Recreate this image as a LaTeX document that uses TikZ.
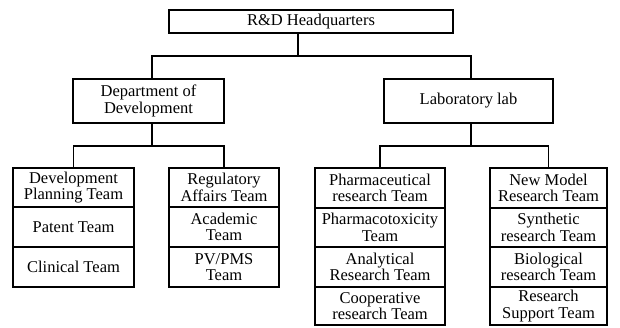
\documentclass[tikz,border=0pt]{standalone}
\usepackage{fontspec}
\setmainfont{Liberation Serif}
\begin{document}
\begin{tikzpicture}[x=1pt,y=-1pt,
  box/.style={draw,line width=1.5pt,rectangle,inner sep=0pt,align=center,
    font=\fontsize{16.5}{16.5}\selectfont},
  wire/.style={line width=1.5pt}]
\useasboundingbox (0,0) rectangle (620,327);
% top level
\node[box,minimum width=284pt,minimum height=23pt] (hq) at (311,21.5) {R\&D Headquarters};
\node[box,minimum width=151pt,minimum height=44pt] (dept) at (148.5,101) {Department of\\Development};
\node[box,minimum width=169pt,minimum height=44pt] (lab) at (468.5,101) {Laboratory lab};
% column A
\node[box,minimum width=121pt,minimum height=39pt] (a1) at (73.5,187.5) {Development\\Planning Team};
\node[box,minimum width=121pt,minimum height=40pt] (a2) at (73.5,227) {Patent Team};
\node[box,minimum width=121pt,minimum height=40pt] (a3) at (73.5,267) {Clinical Team};
% column B
\node[box,minimum width=110pt,minimum height=39pt] (b1) at (224,187.5) {Regulatory\\Affairs Team};
\node[box,minimum width=110pt,minimum height=40pt] (b2) at (224,227) {Academic\\Team};
\node[box,minimum width=110pt,minimum height=40pt] (b3) at (224,267) {PV/PMS\\Team};
% column C
\node[box,minimum width=130pt,minimum height=40pt] (c1) at (380,188) {Pharmaceutical\\research Team};
\node[box,minimum width=130pt,minimum height=39pt] (c2) at (380,227.5) {Pharmacotoxicity\\Team};
\node[box,minimum width=130pt,minimum height=40pt] (c3) at (380,267) {Analytical\\Research Team};
\node[box,minimum width=130pt,minimum height=38pt] (c4) at (380,306) {Cooperative\\research Team};
% column D
\node[box,minimum width=117pt,minimum height=40pt] (d1) at (548.5,188) {New Model\\Research Team};
\node[box,minimum width=117pt,minimum height=39pt] (d2) at (548.5,227.5) {Synthetic\\research Team};
\node[box,minimum width=117pt,minimum height=40pt] (d3) at (548.5,267) {Biological\\research Team};
\node[box,minimum width=117pt,minimum height=38pt] (d4) at (548.5,306) {Research\\Support Team};
% junctions
\coordinate (hj) at (298,56);
\coordinate (dj) at (152,146);
\coordinate (lj) at (471,146);
% connectors
\draw[wire] (hq.south -| hj) -- (hj);
\draw[wire] ([xshift=3.5pt]dept.north) |- (hj) -| ([xshift=2.5pt]lab.north);
\draw[wire] (dept.south -| dj) -- (dj);
\draw[wire] (a1.north) |- (dj) -| (b1.north);
\draw[wire] (lab.south -| lj) -- (lj);
\draw[wire] (c1.north) |- (lj) -| (d1.north);
\end{tikzpicture}
\end{document}
